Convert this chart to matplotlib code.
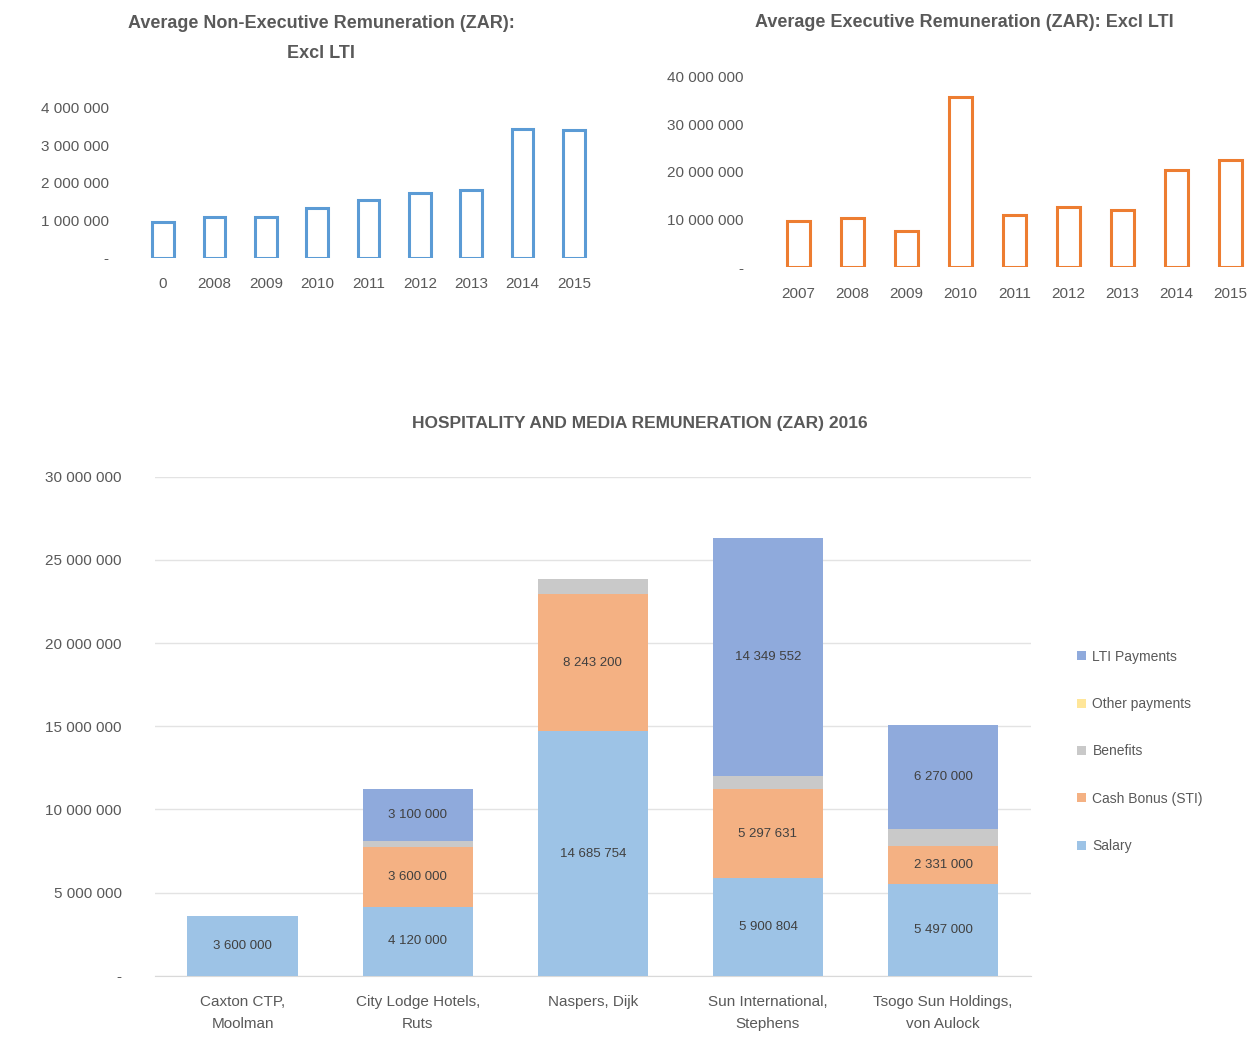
import numpy as np
import matplotlib
matplotlib.use("Agg")
import matplotlib.pyplot as plt

plt.rcParams['font.family'] = ['Liberation Sans', 'DejaVu Sans']

# top left: non-executive averages
nonexec_years = ["0", "2008", "2009", "2010", "2011", "2012", "2013", "2014", "2015"]
nonexec_avg = [960000, 1080000, 1080000, 1340000, 1540000, 1720000, 1810000, 3440000, 3420000]

# top right: executive averages
exec_years = ["2007", "2008", "2009", "2010", "2011", "2012", "2013", "2014", "2015"]
exec_avg = [9800000, 10300000, 7500000, 35800000, 11000000, 12600000, 12000000, 20400000, 22400000]

# bottom: stacked remuneration per company
companies = ["Caxton CTP,\nMoolman", "City Lodge Hotels,\nRuts", "Naspers, Dijk",
             "Sun International,\nStephens", "Tsogo Sun Holdings,\nvon Aulock"]
salary = [3600000, 4120000, 14685754, 5900804, 5497000]
cash_bonus = [0, 3600000, 8243200, 5297631, 2331000]
benefits = [0, 400000, 950000, 800000, 1000000]
other_payments = [0, 0, 0, 0, 0]
lti_payments = [0, 3100000, 0, 14349552, 6270000]

grey = "#595959"


def fmt(v):
    if v == 0:
        return "-"
    return "{:,}".format(int(v)).replace(",", " ")


def style_axis(ax):
    for s in ax.spines.values():
        s.set_visible(False)
    ax.tick_params(length=0, colors=grey, labelsize=11)


fig = plt.figure(figsize=(12.6, 10.48), dpi=100)

# top left chart
ax1 = fig.add_axes([0.105, 0.754, 0.375, 0.143])
x = np.arange(len(nonexec_years))
ax1.bar(x, nonexec_avg, width=0.42, facecolor="white", edgecolor="#5B9BD5", linewidth=2.2)
ax1.set_ylim(0, 4000000)
ticks = [0, 1000000, 2000000, 3000000, 4000000]
ax1.set_yticks(ticks)
ax1.set_yticklabels([fmt(v) for v in ticks])
ax1.set_xticks(x)
ax1.set_xticklabels(nonexec_years)
ax1.set_xlim(-0.6, len(x) - 0.4)
style_axis(ax1)
ax1.tick_params(axis="x", pad=14)
ax1.tick_params(axis="y", pad=17)
fig.text(0.255, 0.963, "Average Non-Executive Remuneration (ZAR):\nExcl LTI", ha="center", va="center",
         fontsize=13, fontweight="bold", color=grey, linespacing=2.0)

# top right chart
ax2 = fig.add_axes([0.61, 0.745, 0.39, 0.182])
x = np.arange(len(exec_years))
ax2.bar(x, exec_avg, width=0.42, facecolor="white", edgecolor="#ED7D31", linewidth=2.2)
ax2.set_ylim(0, 40000000)
ticks = [0, 10000000, 20000000, 30000000, 40000000]
ax2.set_yticks(ticks)
ax2.set_yticklabels([fmt(v) for v in ticks])
ax2.set_xticks(x)
ax2.set_xticklabels(exec_years)
ax2.set_xlim(-0.55, len(x) - 0.45)
style_axis(ax2)
ax2.tick_params(axis="x", pad=14)
ax2.tick_params(axis="y", pad=18)
fig.text(0.765, 0.979, "Average Executive Remuneration (ZAR): Excl LTI", ha="center", va="center",
         fontsize=13, fontweight="bold", color=grey)

# bottom stacked chart
ax3 = fig.add_axes([0.123, 0.069, 0.695, 0.476])
x = np.arange(len(companies))
w = 0.63
series = [
    ("Salary", salary, "#9DC3E6", True),
    ("Cash Bonus (STI)", cash_bonus, "#F4B183", True),
    ("Benefits", benefits, "#C9C9C9", False),
    ("Other payments", other_payments, "#FFE699", False),
    ("LTI Payments", lti_payments, "#8FAADC", True),
]
bottom = np.zeros(len(companies))
handles = []
for name, vals, col, show in series:
    vals = np.array(vals, dtype=float)
    b = ax3.bar(x, vals, width=w, bottom=bottom, color=col, label=name, zorder=3)
    handles.append(b)
    if show:
        for xi, v, b0 in zip(x, vals, bottom):
            if v > 0:
                ax3.text(xi, b0 + v / 2, fmt(v), ha="center", va="center", fontsize=9.5, color="#404040", zorder=4)
    bottom += vals

ax3.set_ylim(0, 30000000)
ticks = [0, 5000000, 10000000, 15000000, 20000000, 25000000, 30000000]
ax3.set_yticks(ticks)
ax3.set_yticklabels([fmt(v) for v in ticks])
ax3.set_xticks(x)
ax3.set_xticklabels(companies, linespacing=1.7)
ax3.set_xlim(-0.5, len(x) - 0.5)
ax3.yaxis.grid(True, color="#E3E3E3", linewidth=1, zorder=0)
style_axis(ax3)
ax3.spines["bottom"].set_visible(True)
ax3.spines["bottom"].set_color("#D9D9D9")
ax3.tick_params(axis="y", pad=24)
ax3.tick_params(axis="x", pad=14)
fig.text(0.508, 0.596, "HOSPITALITY AND MEDIA REMUNERATION (ZAR) 2016", ha="center", va="center",
         fontsize=12.5, fontweight="bold", color=grey)

leg = fig.legend(handles[::-1], [s[0] for s in series][::-1], loc="center left",
                 bbox_to_anchor=(0.845, 0.283), frameon=False, fontsize=10,
                 handlelength=0.6, handleheight=0.6, labelspacing=2.4, handletextpad=0.5)
for t in leg.get_texts():
    t.set_color(grey)

fig.savefig("out.png", dpi=100)
